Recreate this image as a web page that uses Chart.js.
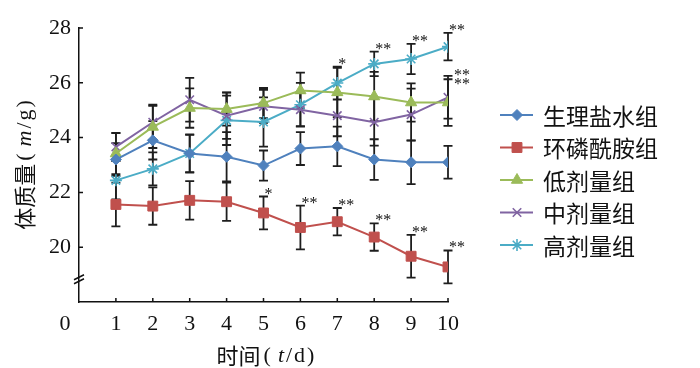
<!DOCTYPE html>
<html>
<head>
<meta charset="utf-8">
<script src="https://cdn.jsdelivr.net/npm/chart.js@4"></script>
<style>
html,body{margin:0;padding:0;background:#fff;}
canvas{display:block;}
</style>
</head>
<body>
<canvas id="c" width="700" height="368"></canvas>
<script>
// ---- data ----
const days = [1, 2, 3, 4, 5, 6, 7, 8, 9, 10];
const seriesNames = ['生理盐水组', '环磷酰胺组', '低剂量组', '中剂量组', '高剂量组'];
const saline   = [23.20, 23.90, 23.42, 23.30, 22.98, 23.60, 23.68, 23.20, 23.10, 23.10];
const salineSD = [0.60, 0.70, 0.70, 0.90, 0.55, 0.60, 0.72, 0.74, 0.80, 0.60];
const cyclo    = [21.56, 21.50, 21.71, 21.66, 21.25, 20.72, 20.93, 20.37, 19.67, 19.28];
const cycloSD  = [0.80, 0.68, 0.70, 0.70, 0.60, 0.80, 0.50, 0.50, 0.78, 0.60];
const low      = [23.42, 24.39, 25.08, 25.04, 25.26, 25.72, 25.65, 25.50, 25.28, 25.28];
const lowSD    = [0.75, 0.77, 0.72, 0.60, 0.55, 0.65, 0.90, 0.90, 0.70, 0.85];
const mid      = [23.66, 24.56, 25.38, 24.80, 25.14, 25.02, 24.80, 24.56, 24.84, 25.47];
const midSD    = [0.50, 0.64, 0.80, 0.85, 0.60, 0.60, 0.75, 0.85, 0.95, 0.78];
const high     = [22.44, 22.86, 23.42, 24.63, 24.57, 25.20, 25.99, 26.69, 26.87, 27.32];
const highSD   = [0.70, 0.60, 0.68, 0.90, 0.90, 0.80, 0.60, 0.45, 0.55, 0.50];
const salineSig = ['', '', '', '', '', '', '', '', '', ''];
const cycloSig  = ['', '', '', '', '*', '**', '**', '**', '**', '**'];
const lowSig    = ['', '', '', '', '', '', '', '', '', '**'];
const midSig    = ['', '', '', '', '', '', '', '', '', '**'];
const highSig   = ['', '', '', '', '', '', '*', '**', '**', '**'];
const yTicks = [20, 22, 24, 26, 28];
const xTicks = [0, 1, 2, 3, 4, 5, 6, 7, 8, 9, 10];
const yTitle = ['体质量', '(', 'm', '/', 'g', ')'];
const xTitle = ['时间', '(', 't', '/', 'd', ')'];

const CJK = '"Noto Sans CJK SC"';
const SERIF = '"Liberation Serif", "DejaVu Serif", serif';

function mk(label, vals, sd, sig, color, style, r, bw, sigDx, sigDy) {
  return {
    label: label,
    data: days.map((d, i) => ({x: d, y: vals[i]})),
    sd: sd, sig: sig, sigDx: sigDx, sigDy: sigDy,
    borderColor: color, backgroundColor: color,
    pointBackgroundColor: color, pointBorderColor: color,
    pointStyle: style, pointRadius: r, pointBorderWidth: bw,
    borderWidth: 2, tension: 0
  };
}
const datasets = [
  mk(seriesNames[0], saline, salineSD, salineSig, '#4F81BD', 'rectRot', 5.5, 1, 1, -7),
  mk(seriesNames[1], cyclo, cycloSD, cycloSig, '#C0504D', 'rect', 7, 1, 1, -7),
  mk(seriesNames[2], low, lowSD, lowSig, '#9BBB59', 'triangle', 6.5, 1, 6, 1),
  mk(seriesNames[3], mid, midSD, midSig, '#8064A2', 'crossRot', 6, 1.6, 6, -5),
  mk(seriesNames[4], high, highSD, highSig, '#4BACC6', 'star', 6, 1.6, 1, -7)
];

// parts: [cjk, '(', italic, '/', upright, ')'] with spacing
function drawTitle(ctx, parts, size, cx, cy) {
  const fonts = [size + 'px ' + CJK, size + 'px ' + SERIF, 'italic ' + size + 'px ' + SERIF,
                 size + 'px ' + SERIF, size + 'px ' + SERIF, size + 'px ' + SERIF];
  const gaps = [3, 7, 2, 2, 2, 0];
  let w = 0;
  const ws = parts.map((p, i) => { ctx.font = fonts[i]; const m = ctx.measureText(p).width; w += m + gaps[i]; return m; });
  let x = cx - w / 2;
  parts.forEach((p, i) => { ctx.font = fonts[i]; ctx.fillText(p, x, cy); x += ws[i] + gaps[i]; });
}

const extras = {
  id: 'extras',
  beforeDatasetsDraw(chart) {
    const {ctx, scales: {x, y}} = chart;
    ctx.save();
    ctx.strokeStyle = '#1e1e1e';
    ctx.lineWidth = 1.8;
    chart.data.datasets.forEach(ds => {
      ds.data.forEach((p, i) => {
        const sd = ds.sd[i];
        const px = x.getPixelForValue(p.x);
        const yt = y.getPixelForValue(p.y + sd), yb = y.getPixelForValue(p.y - sd);
        ctx.beginPath();
        ctx.moveTo(px, yt); ctx.lineTo(px, yb);
        ctx.moveTo(px - 4.5, yt); ctx.lineTo(px + 4.5, yt);
        ctx.moveTo(px - 4.5, yb); ctx.lineTo(px + 4.5, yb);
        ctx.stroke();
      });
    });
    ctx.restore();
  },
  afterDraw(chart) {
    const {ctx, chartArea: ca, scales: {x, y}} = chart;
    ctx.save();
    ctx.strokeStyle = '#111';
    ctx.fillStyle = '#111';
    ctx.lineWidth = 1.5;
    // inward ticks
    ctx.beginPath();
    days.forEach(d => { const px = x.getPixelForValue(d); ctx.moveTo(px, ca.bottom); ctx.lineTo(px, ca.bottom - 4); });
    yTicks.forEach(v => { const py = y.getPixelForValue(v); ctx.moveTo(ca.left, py); ctx.lineTo(ca.left + 4, py); });
    ctx.stroke();
    // axis break mark
    const by = y.getPixelForValue(18.85);
    ctx.beginPath();
    ctx.moveTo(ca.left - 5, by + 1); ctx.lineTo(ca.left + 5, by - 4);
    ctx.moveTo(ca.left - 5, by + 5); ctx.lineTo(ca.left + 5, by);
    ctx.stroke();
    // origin label
    ctx.font = '22px ' + SERIF;
    ctx.textAlign = 'center'; ctx.textBaseline = 'middle';
    ctx.fillText(String(xTicks[0]), x.getPixelForValue(0) - 14, ca.bottom + 22);
    // significance marks
    ctx.font = '16px ' + SERIF;
    ctx.textAlign = 'left'; ctx.textBaseline = 'alphabetic';
    chart.data.datasets.forEach(ds => {
      ds.data.forEach((p, i) => {
        const s = ds.sig[i];
        if (!s) return;
        const px = x.getPixelForValue(p.x) + ds.sigDx;
        const py = y.getPixelForValue(p.y + ds.sd[i]) + ds.sigDy + 9;
        let xx = px;
        for (const ch of s) { ctx.fillText('*', xx, py); xx += 8; }
      });
    });
    // axis titles
    ctx.textAlign = 'left'; ctx.textBaseline = 'middle';
    ctx.save();
    ctx.translate(25, (ca.top + ca.bottom) / 2);
    ctx.rotate(-Math.PI / 2);
    drawTitle(ctx, yTitle, 22, 0, 0);
    ctx.restore();
    drawTitle(ctx, xTitle, 22, (ca.left + ca.right) / 2 + 2, 356);
    // legend
    const H = Chart.helpers;
    chart.data.datasets.forEach((ds, i) => {
      const ly = 115 + i * 32.5;
      ctx.strokeStyle = ds.borderColor; ctx.lineWidth = 2;
      ctx.beginPath(); ctx.moveTo(500, ly); ctx.lineTo(533, ly); ctx.stroke();
      ctx.fillStyle = ds.pointBackgroundColor; ctx.strokeStyle = ds.pointBorderColor;
      ctx.lineWidth = ds.pointBorderWidth;
      if (H && H.drawPoint) {
        H.drawPoint(ctx, {pointStyle: ds.pointStyle, radius: ds.pointRadius, rotation: 0, borderWidth: ds.pointBorderWidth}, 517, ly);
      }
      ctx.fillStyle = '#111';
      ctx.font = '23px ' + CJK;
      ctx.textAlign = 'left'; ctx.textBaseline = 'middle';
      ctx.fillText(ds.label, 543, ly + 1);
    });
    ctx.restore();
  }
};

new Chart(document.getElementById('c'), {
  type: 'line',
  data: {datasets: datasets},
  plugins: [extras],
  options: {
    responsive: false,
    animation: false,
    devicePixelRatio: 1,
    layout: {padding: {left: 0, right: 252, top: 28, bottom: 0}},
    plugins: {legend: {display: false}, tooltip: {enabled: false}},
    scales: {
      x: {
        type: 'linear', min: 0, max: 10,
        afterFit(s) { s.height = 66; },
        afterBuildTicks(s) { s.ticks = xTicks.map(v => ({value: v})); },
        grid: {display: false, drawTicks: false},
        border: {display: true, color: '#111', width: 1.5},
        ticks: {padding: 9, color: '#111', font: {family: SERIF, size: 22},
          callback: v => (v === 0 ? '' : String(v))}
      },
      y: {
        type: 'linear', min: 18, max: 28,
        afterFit(s) { s.width = 79; },
        afterBuildTicks(s) { s.ticks = yTicks.map(v => ({value: v})); },
        grid: {display: false, drawTicks: false},
        border: {display: true, color: '#111', width: 1.5},
        ticks: {padding: 8, color: '#111', font: {family: SERIF, size: 22},
          callback: v => String(v)}
      }
    }
  }
});
</script>
</body>
</html>
